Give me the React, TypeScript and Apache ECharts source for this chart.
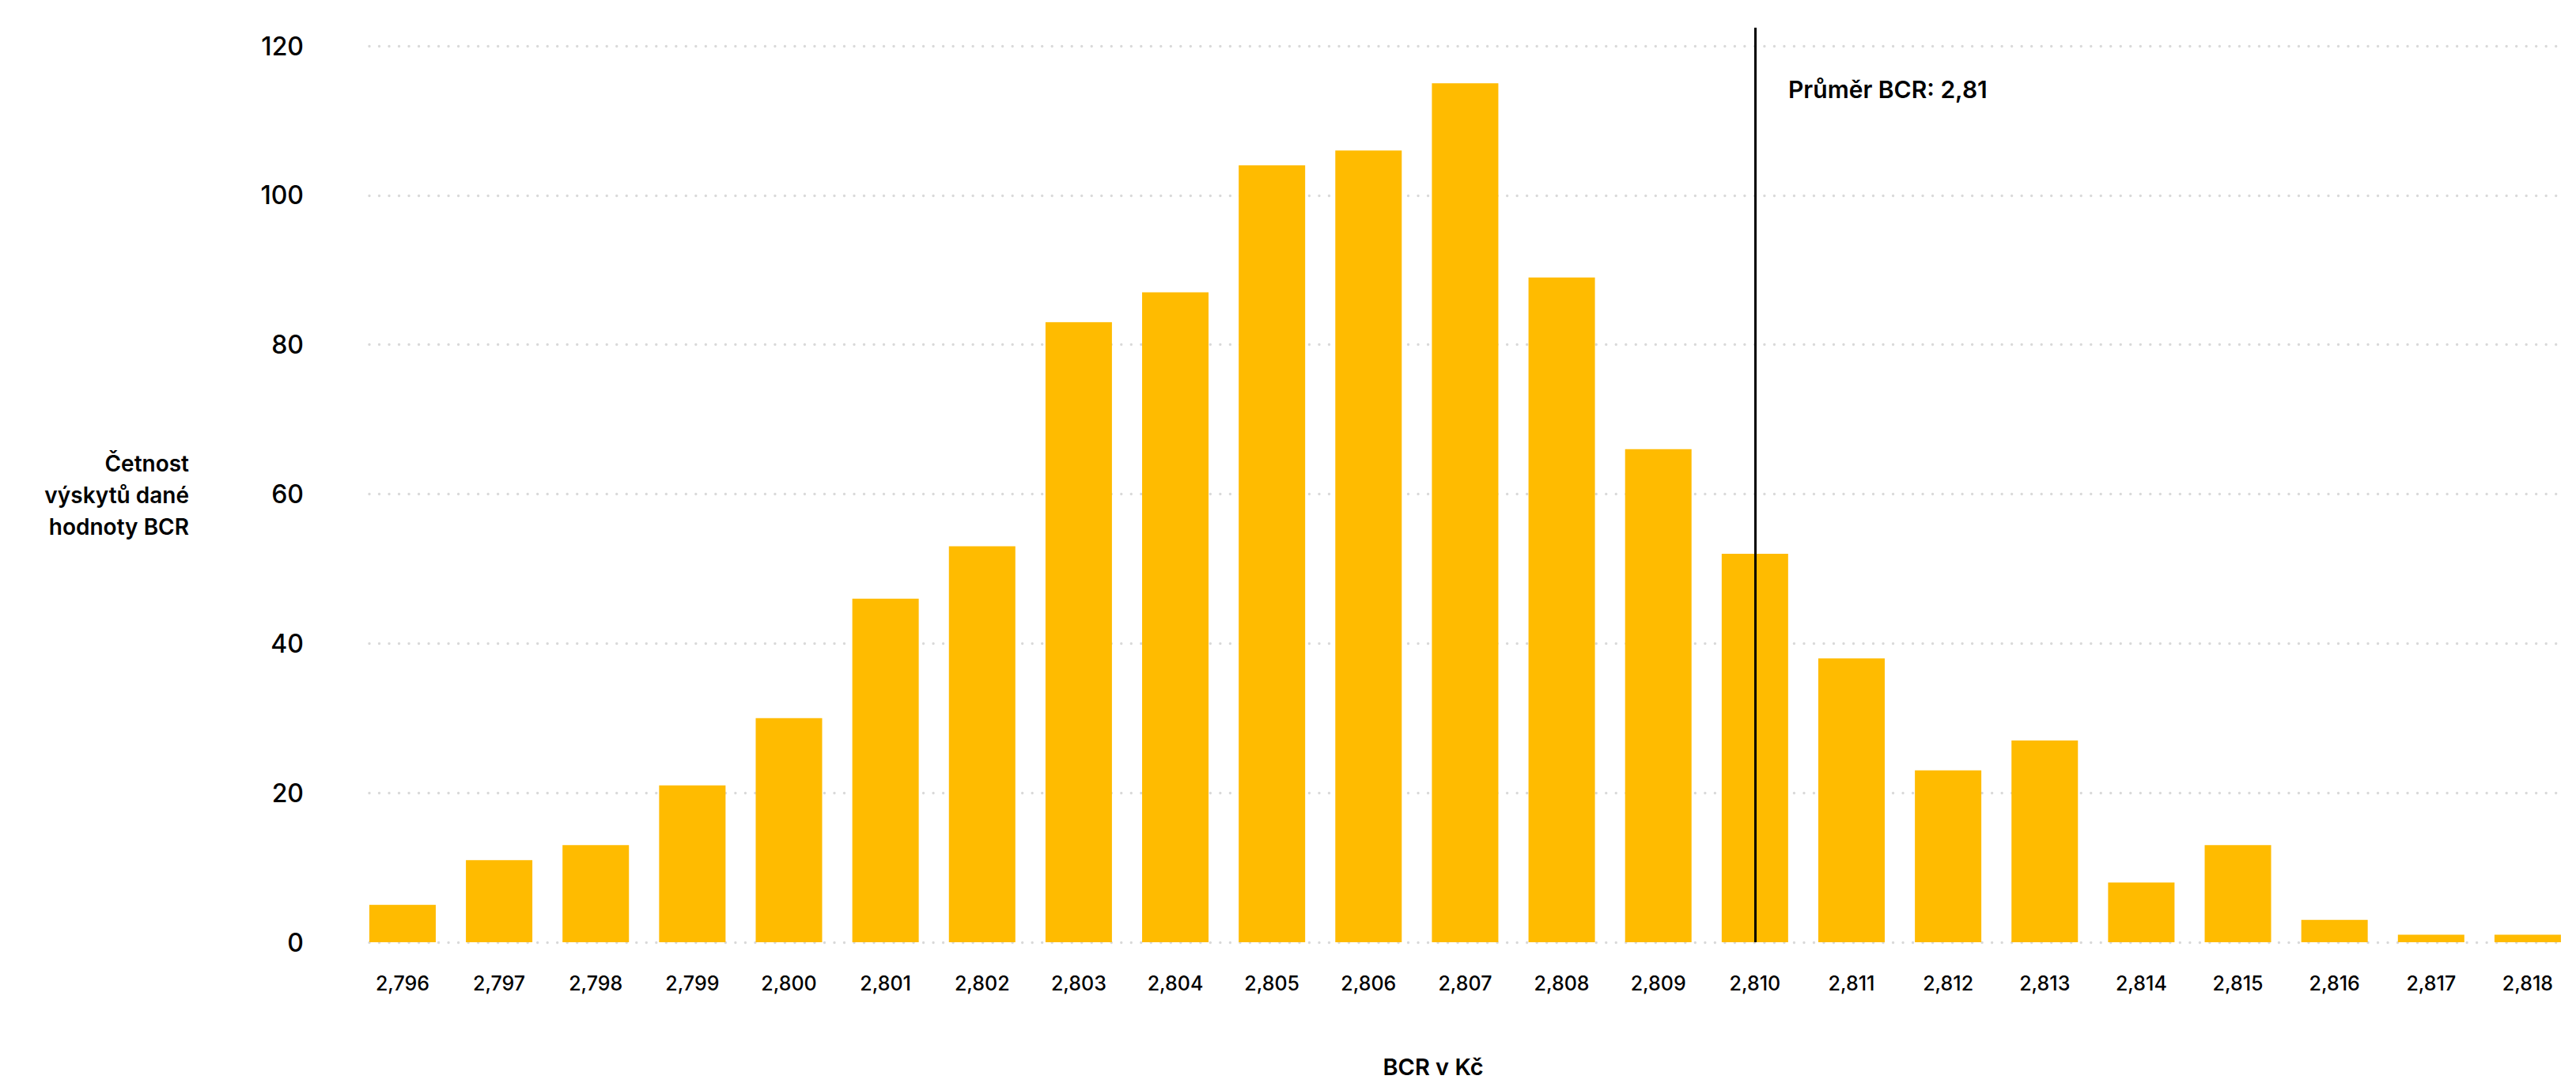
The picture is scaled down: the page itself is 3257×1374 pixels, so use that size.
import React, { useEffect, useRef } from "react";
import * as echarts from "echarts";

// ---- data ----
const categories: string[] = [
  "2,796", "2,797", "2,798", "2,799", "2,800", "2,801", "2,802", "2,803",
  "2,804", "2,805", "2,806", "2,807", "2,808", "2,809", "2,810", "2,811",
  "2,812", "2,813", "2,814", "2,815", "2,816", "2,817", "2,818",
];
const counts: number[] = [
  5, 11, 13, 21, 30, 46, 53, 83, 87, 104, 106, 115, 89, 66, 52, 38, 23, 27, 8, 13, 3, 1, 1,
];
const yMin = 0;
const yMax = 120;
const yStep = 20;
const meanCategory = "2,810";
const meanLabel = "Průměr BCR: 2,81";
const yAxisTitle = "Četnost\nvýskytů dané\nhodnoty BCR";
const xAxisTitle = "BCR v Kč";

// ---- layout ----
const W = 3257;
const H = 1374;
const plotLeft = 467;
const plotRight = 3240;
const plotTop = 58;
const plotBottom = 1191;
const barW = 84;
const lineTop = 35;

export default function App() {
  const ref = useRef<HTMLDivElement>(null);
  useEffect(() => {
    document.body.style.margin = "0";
    const chart = echarts.init(ref.current!, null, { renderer: "svg" });
    const n = categories.length;
    const pitch = (plotRight - plotLeft - barW) / (n - 1);
    const g0Left = plotLeft + barW / 2 - pitch / 2;
    const g0RightEdge = plotRight - barW / 2 + pitch / 2;
    const pxPerUnit = (plotBottom - plotTop) / (yMax - yMin);
    const y0Max = yMin + (plotBottom - lineTop) / pxPerUnit;
    const font = "Inter";

    chart.setOption({
      animation: false,
      backgroundColor: "#ffffff",
      textStyle: { fontFamily: font },
      grid: [
        { left: g0Left, right: W - g0RightEdge, top: lineTop, bottom: H - plotBottom },
        { left: plotLeft, right: W - plotRight, top: plotTop, bottom: H - plotBottom },
      ],
      xAxis: [
        {
          type: "category",
          gridIndex: 0,
          data: categories,
          boundaryGap: true,
          axisLine: { show: false },
          axisTick: { show: false },
          splitLine: { show: false },
          axisLabel: {
            interval: 0,
            margin: 39,
            fontSize: 25,
            color: "#000",
            fontFamily: font,
            fontWeight: 500,
          },
        },
        { type: "value", gridIndex: 1, show: false, min: 0, max: 1 },
      ],
      yAxis: [
        {
          type: "value",
          gridIndex: 0,
          min: yMin,
          max: y0Max,
          show: false,
          splitLine: { show: false },
        },
        {
          type: "value",
          gridIndex: 1,
          min: yMin,
          max: yMax,
          interval: yStep,
          axisLine: { show: false },
          axisTick: { show: false },
          axisLabel: {
            fontSize: 32,
            color: "#000",
            margin: plotLeft - 384,
            fontFamily: font,
            fontWeight: 500,
          },
          splitLine: {
            show: true,
            lineStyle: { color: "#d9d9d9", width: 3.4, type: [0.01, 12.5], cap: "round" },
          },
        },
      ],
      series: [
        {
          type: "bar",
          xAxisIndex: 0,
          yAxisIndex: 0,
          data: counts,
          barWidth: barW,
          itemStyle: { color: "#FFBB00" },
          z: 3,
          markLine: {
            silent: true,
            symbol: ["none", "none"],
            label: { show: false },
            lineStyle: { color: "#000", width: 3, type: "solid" },
            data: [{ xAxis: meanCategory }],
          },
        },
      ],
      graphic: [
        {
          type: "text",
          x: 2261,
          y: 113,
          style: {
            text: meanLabel,
            fontSize: 30,
            fontWeight: 600,
            fontFamily: font,
            fill: "#000",
            align: "left",
            verticalAlign: "middle",
          },
        },
        {
          type: "text",
          x: 239,
          y: 626,
          style: {
            text: yAxisTitle,
            fontSize: 28,
            lineHeight: 40,
            fontWeight: 600,
            fontFamily: font,
            fill: "#000",
            align: "right",
            verticalAlign: "middle",
          },
        },
        {
          type: "text",
          x: 1812,
          y: 1348,
          style: {
            text: xAxisTitle,
            fontSize: 29,
            fontWeight: 600,
            fontFamily: font,
            fill: "#000",
            align: "center",
            verticalAlign: "middle",
          },
        },
      ],
    });
    return () => chart.dispose();
  }, []);
  return <div ref={ref} style={{ width: W, height: H }} />;
}
